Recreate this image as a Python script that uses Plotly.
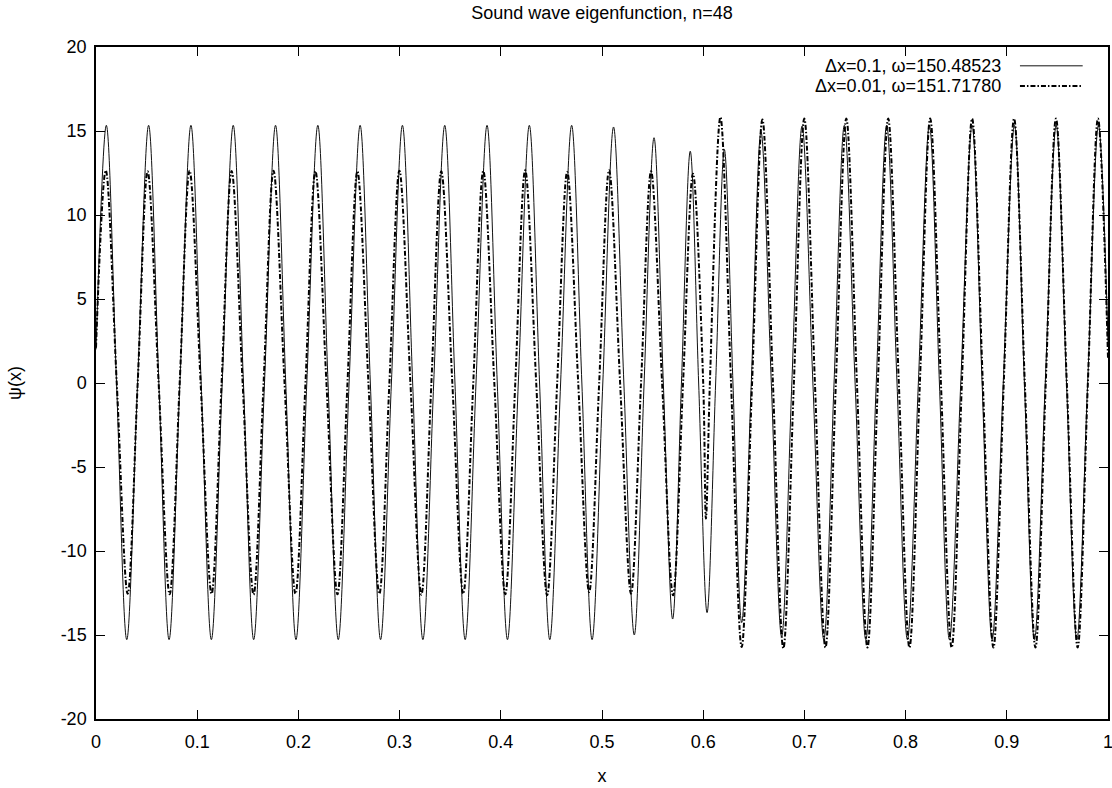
import plotly.graph_objects as go

# ---------------- data ----------------
chart_title = "Sound wave eigenfunction, n=48"
x_label = "x"
y_label = "ψ(x)"
x_tick_vals = [0, 0.1, 0.2, 0.3, 0.4, 0.5, 0.6, 0.7, 0.8, 0.9, 1.0]
x_tick_text = ["0", "0.1", "0.2", "0.3", "0.4", "0.5", "0.6", "0.7", "0.8", "0.9", "1"]
y_tick_vals = [-20, -15, -10, -5, 0, 5, 10, 15, 20]
y_tick_text = ["-20", "-15", "-10", "-5", "0", "5", "10", "15", "20"]

series_names = ["Δx=0.1, ω=150.48523", "Δx=0.01, ω=151.71780"]

# Series 1 (dx = 0.1): end points, crests, troughs and zero crossings
coarse_end_x = [0.0, 1.0]
coarse_end_psi = [2.0, 2.4]
coarse_peak_x = [0.0102, 0.0520, 0.0938, 0.1356, 0.1774, 0.2192, 0.2610, 0.3028,
                 0.3446, 0.3864, 0.4282, 0.4700, 0.5114, 0.5514, 0.5872, 0.6209,
                 0.6571, 0.6977, 0.7395, 0.7813, 0.8235, 0.8657, 0.9076, 0.9488, 0.9906]
coarse_peak_psi = [15.34, 15.34, 15.34, 15.34, 15.34, 15.34, 15.34, 15.34,
                   15.34, 15.34, 15.34, 15.34, 15.24, 14.60, 13.80, 13.90,
                   14.95, 15.30, 15.34, 15.34, 15.34, 15.34, 15.34, 15.34, 15.34]
coarse_trough_x = [0.0304, 0.0722, 0.1140, 0.1558, 0.1976, 0.2394, 0.2812, 0.3230,
                   0.3648, 0.4066, 0.4484, 0.4902, 0.5319, 0.5698, 0.6038, 0.6380,
                   0.6775, 0.7192, 0.7607, 0.8018, 0.8433, 0.8855, 0.9273, 0.9692]
coarse_trough_psi = [-15.28, -15.28, -15.28, -15.28, -15.28, -15.28, -15.28, -15.28,
                     -15.28, -15.28, -15.28, -15.28, -15.00, -14.05, -13.67, -14.26,
                     -15.10, -15.28, -15.28, -15.28, -15.28, -15.28, -15.28, -15.28]
coarse_zero_x = [0.0203, 0.0411, 0.0621, 0.0829, 0.1039, 0.1247, 0.1457, 0.1665,
                 0.1875, 0.2083, 0.2293, 0.2501, 0.2711, 0.2919, 0.3129, 0.3337,
                 0.3547, 0.3755, 0.3965, 0.4173, 0.4383, 0.4591, 0.4801, 0.5008,
                 0.5216, 0.5416, 0.5606, 0.5785, 0.5955, 0.6123, 0.6294, 0.6475,
                 0.6673, 0.6876, 0.7084, 0.7293, 0.7501, 0.7710, 0.7915, 0.8126,
                 0.8334, 0.8545, 0.8756, 0.8965, 0.9174, 0.9380, 0.9590, 0.9799]

# Series 2 (dx = 0.01)
fine_end_x = [0.0, 1.0]
fine_end_psi = [2.1, 1.5]
fine_peak_x = [0.0096, 0.0510, 0.0925, 0.1340, 0.1754, 0.2168, 0.2583, 0.2998,
               0.3412, 0.3827, 0.4241, 0.4656, 0.5070, 0.5485, 0.5899, 0.6170,
               0.6585, 0.6999, 0.7414, 0.7828, 0.8243, 0.8657, 0.9072, 0.9486, 0.9901]
fine_peak_psi = [12.66, 12.60, 12.64, 12.62, 12.64, 12.62, 12.60, 12.64,
                 12.60, 12.62, 12.66, 12.56, 12.66, 12.60, 12.46, 15.83,
                 15.68, 15.74, 15.74, 15.74, 15.74, 15.74, 15.74, 15.74, 15.74]
fine_trough_x = [0.0313, 0.0728, 0.1142, 0.1557, 0.1971, 0.2386, 0.2800, 0.3215,
                 0.3629, 0.4044, 0.4458, 0.4873, 0.5287, 0.5702, 0.6027, 0.6380,
                 0.6792, 0.7208, 0.7623, 0.8038, 0.8455, 0.8868, 0.9283, 0.9700]
fine_trough_psi = [-12.55, -12.58, -12.55, -12.60, -12.55, -12.58, -12.55, -12.60,
                   -12.55, -12.58, -12.64, -12.44, -12.54, -12.64, -8.07, -15.71,
                   -15.80, -15.75, -15.75, -15.75, -15.75, -15.75, -15.75, -15.75]
fine_zero_x = [0.0205, 0.0412, 0.0619, 0.0827, 0.1034, 0.1241, 0.1449, 0.1656,
               0.1863, 0.2070, 0.2277, 0.2485, 0.2692, 0.2899, 0.3107, 0.3314,
               0.3521, 0.3728, 0.3936, 0.4143, 0.4350, 0.4557, 0.4765, 0.4972,
               0.5179, 0.5386, 0.5594, 0.5801, 0.6000, 0.6066, 0.6275, 0.6483,
               0.6689, 0.6896, 0.7104, 0.7311, 0.7519, 0.7726, 0.7933, 0.8141,
               0.8349, 0.8556, 0.8763, 0.8970, 0.9178, 0.9385, 0.9593, 0.9801]


def merge(ex, ey, px, py, tx, ty, zx):
    pts = list(zip(ex, ey)) + list(zip(px, py)) + list(zip(tx, ty)) + [(z, 0.0) for z in zx]
    pts.sort(key=lambda p: p[0])
    return [p[0] for p in pts], [p[1] for p in pts]


cx, cy = merge(coarse_end_x, coarse_end_psi, coarse_peak_x, coarse_peak_psi,
               coarse_trough_x, coarse_trough_psi, coarse_zero_x)
fx, fy = merge(fine_end_x, fine_end_psi, fine_peak_x, fine_peak_psi,
               fine_trough_x, fine_trough_psi, fine_zero_x)

FONT = "Liberation Sans, Arial, Helvetica, sans-serif"
FS = 18
dash_pattern = "5px,2px,1.5px,2px"

fig = go.Figure()
fig.add_trace(go.Scatter(x=cx, y=cy, mode="lines", name=series_names[0],
                         line=dict(color="#111111", width=1, shape="spline", smoothing=1.0)))
fig.add_trace(go.Scatter(x=fx, y=fy, mode="lines", name=series_names[1],
                         line=dict(color="#000000", width=2, dash=dash_pattern,
                                   shape="spline", smoothing=1.0)))

# gnuplot-style key: text right-aligned, sample line to its right
key_rows_y = [0.972, 0.942]
for i, name in enumerate(series_names):
    fig.add_annotation(x=0.8965, y=key_rows_y[i], xref="paper", yref="paper",
                       text=name, showarrow=False, xanchor="right", yanchor="middle",
                       font=dict(family=FONT, size=FS, color="black"))
fig.add_shape(type="line", xref="paper", yref="paper", x0=0.913, x1=0.975,
              y0=key_rows_y[0], y1=key_rows_y[0], line=dict(color="#111111", width=1))
fig.add_shape(type="line", xref="paper", yref="paper", x0=0.913, x1=0.975,
              y0=key_rows_y[1], y1=key_rows_y[1],
              line=dict(color="black", width=2, dash=dash_pattern))

axis_common = dict(showline=True, linecolor="black", linewidth=1.5, mirror="ticks",
                   ticks="inside", ticklen=9, tickwidth=1, tickcolor="black",
                   showgrid=False, zeroline=False, ticklabeloverflow="allow",
                   tickfont=dict(family=FONT, size=FS, color="black"))

fig.update_layout(
    width=1112, height=788,
    margin=dict(l=96, r=4, t=47, b=69, autoexpand=False),
    paper_bgcolor="white", plot_bgcolor="white",
    showlegend=False,
    title=dict(text=chart_title, x=0.5, xref="paper", y=1 - 13 / 788, yref="container",
               xanchor="center", yanchor="middle",
               font=dict(family=FONT, size=FS, color="black")),
    xaxis=dict(range=[0, 1], tickvals=x_tick_vals, ticktext=x_tick_text,
               title=dict(text=x_label, standoff=18, font=dict(family=FONT, size=FS, color="black")),
               ticklabelstandoff=6, **axis_common),
    yaxis=dict(range=[-20, 20], tickvals=y_tick_vals, ticktext=y_tick_text,
               title=dict(text=y_label, standoff=34, font=dict(family=FONT, size=FS, color="black")),
               ticklabelstandoff=4, **axis_common),
)

fig.write_html("out.html")
